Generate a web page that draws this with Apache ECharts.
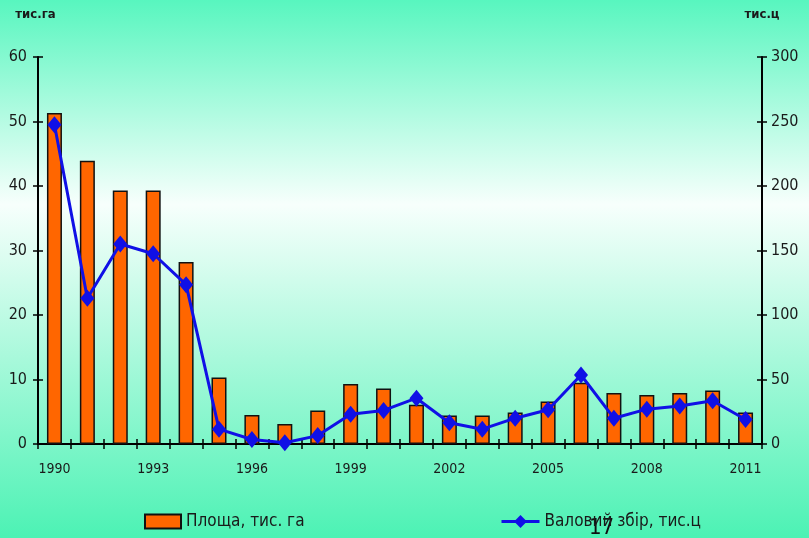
<!DOCTYPE html>
<html>
<head>
<meta charset="utf-8">
<script src="https://cdn.jsdelivr.net/npm/echarts@6/dist/echarts.min.js"></script>
<style>
  html, body { margin: 0; padding: 0; }
  #chart { width: 809px; height: 538px; }
</style>
</head>
<body>
<div id="chart"></div>
<script>
// Years on the category axis
const years = ['1990','1991','1992','1993','1994','1995','1996','1997','1998','1999','2000',
               '2001','2002','2003','2004','2005','2006','2007','2008','2009','2010','2011'];
// Area, thousand ha (left axis)
const area = [51.3, 43.9, 39.3, 39.3, 28.2, 10.3, 4.5, 3.1, 5.2, 9.3, 8.6,
              6.1, 4.4, 4.4, 4.9, 6.6, 9.5, 7.9, 7.6, 7.9, 8.3, 4.9];
// Gross harvest, thousand centners (right axis)
const harvest = [247.5, 113, 155, 147.5, 123.5, 11.5, 3.5, 1, 6.5, 23, 26,
                 35.5, 16.5, 11.5, 20, 26.5, 53.5, 20, 27, 29.5, 33.5, 19];
const areaName = 'Площа, тис. га';
const harvestName = 'Валовий збір, тис.ц';

const font = '"DejaVu Sans Condensed", "Liberation Sans Narrow", "Arial Narrow", sans-serif';
const ink = '#1a1a1a';

const chart = echarts.init(document.getElementById('chart'));
chart.setOption({
  animation: false,
  backgroundColor: {
    type: 'linear', x: 0, y: 0, x2: 0, y2: 1,
    colorStops: [
      { offset: 0, color: '#58f6bf' },
      { offset: 0.38, color: '#f7fffc' },
      { offset: 1, color: '#4cf2b4' }
    ]
  },
  grid: { left: 38, right: 47, top: 57, bottom: 94 },
  legend: [
    {
      data: [{ name: areaName, icon: 'rect' }], left: 139, top: 508,
      itemWidth: 36, itemHeight: 14, itemGap: 8,
      textStyle: { fontFamily: font, fontSize: 17, color: ink }
    },
    {
      data: [harvestName], left: 495, top: 508,
      itemWidth: 38, itemHeight: 16,
      lineStyle: { width: 3 },
      textStyle: { fontFamily: font, fontSize: 17, color: ink }
    }
  ],
  xAxis: [
    {
      type: 'category', data: years, boundaryGap: true,
      axisLine: { lineStyle: { color: '#000', width: 2 } },
      axisTick: { show: true, length: 5, interval: 0, lineStyle: { color: '#000', width: 1.5 } },
      axisLabel: { interval: 2, margin: 18, fontFamily: font, fontSize: 14, color: ink }
    },
    {
      type: 'category', data: years, position: 'bottom', boundaryGap: true,
      axisLine: { show: false },
      axisTick: { show: true, inside: true, length: 5, interval: 0, lineStyle: { color: '#000', width: 1.5 } },
      axisLabel: { show: false }
    }
  ],
  yAxis: [
    {
      type: 'value', min: 0, max: 60, interval: 10, position: 'left',
      axisLine: { show: true, lineStyle: { color: '#000', width: 2 } },
      axisTick: { show: true, length: 5, lineStyle: { color: '#000', width: 1.5 } },
      axisLabel: { margin: 11, fontFamily: font, fontSize: 16, color: ink },
      splitLine: { show: false },
      name: 'тис.га', nameLocation: 'end', nameGap: 36,
      nameTextStyle: { fontFamily: font, fontSize: 13, fontWeight: 'bold', color: ink, align: 'center', padding: [0, 0, 0, -5] }
    },
    {
      type: 'value', min: 0, max: 300, interval: 50, position: 'right',
      axisLine: { show: true, lineStyle: { color: '#000', width: 2 } },
      axisTick: { show: true, length: 5, lineStyle: { color: '#000', width: 1.5 } },
      axisLabel: { margin: 9, fontFamily: font, fontSize: 16, color: ink },
      splitLine: { show: false },
      name: 'тис.ц', nameLocation: 'end', nameGap: 36,
      nameTextStyle: { fontFamily: font, fontSize: 13, fontWeight: 'bold', color: ink, align: 'center', padding: [0, 0, 0, 0] }
    },
    {
      type: 'value', min: 0, max: 60, interval: 10, position: 'left',
      axisLine: { show: false },
      axisTick: { show: true, inside: true, length: 5, lineStyle: { color: '#000', width: 1.5 } },
      axisLabel: { show: false }, splitLine: { show: false }
    },
    {
      type: 'value', min: 0, max: 300, interval: 50, position: 'right',
      axisLine: { show: false },
      axisTick: { show: true, inside: true, length: 5, lineStyle: { color: '#000', width: 1.5 } },
      axisLabel: { show: false }, splitLine: { show: false }
    }
  ],
  series: [
    {
      name: areaName, type: 'bar', xAxisIndex: 0, yAxisIndex: 0,
      data: area, barWidth: 15,
      itemStyle: { color: '#ff6600', borderColor: '#111', borderWidth: 1.5 }
    },
    {
      name: harvestName, type: 'line', xAxisIndex: 0, yAxisIndex: 1,
      data: harvest,
      symbol: 'diamond', symbolSize: [14, 17],
      lineStyle: { color: '#1010e6', width: 3 },
      itemStyle: { color: '#1010e6' }
    }
  ],
  graphic: [
    {
      type: 'text', left: 589, top: 517,
      style: { text: '17', fontFamily: font, fontSize: 22, fill: '#111' }
    }
  ]
});
</script>
</body>
</html>
